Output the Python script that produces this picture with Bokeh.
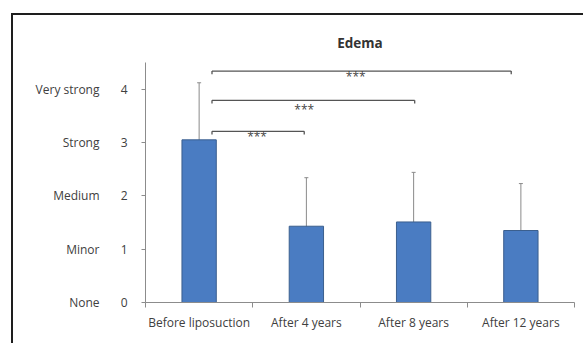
from bokeh.plotting import figure
from bokeh.layouts import column
from bokeh.models import (ColumnDataSource, FixedTicker, LinearAxis, Range1d,
                          Whisker, TeeHead)
from bokeh.core.properties import value
from bokeh.embed import file_html
from bokeh.resources import INLINE

# ---- data ----
title_text = "Edema"
categories = ["Before liposuction", "After 4 years", "After 8 years", "After 12 years"]
means = [3.05, 1.43, 1.51, 1.35]
errors = [1.07, 0.91, 0.93, 0.88]
level_values = [0, 1, 2, 3, 4]
level_names = ["None", "Minor", "Medium", "Strong", "Very strong"]
bracket_x0 = [0.62, 0.62, 0.62]
bracket_x1 = [1.48, 2.51, 3.41]
bracket_y = [3.21, 3.79, 4.34]
star_x = [1.04, 1.48, 1.96]
star_y = [3.11, 3.62, 4.24]
star_text = ["***", "***", "***"]

FONT = "Open Sans"
TXT = "#404040"
AX = "#8c8c8c"

xc = [i + 0.5 for i in range(len(categories))]
src = ColumnDataSource(dict(x=xc, top=means,
                            lo=[m - e for m, e in zip(means, errors)],
                            hi=[m + e for m, e in zip(means, errors)]))

fig = figure(width=572, height=330, output_backend="svg", toolbar_location=None,
             x_range=Range1d(0, len(categories)), y_range=Range1d(0, 4.5),
             min_border_left=132, min_border_right=11, min_border_top=47,
             min_border_bottom=43, y_axis_location=None)
fig.outline_line_color = None
fig.grid.visible = False
fig.background_fill_color = "white"

fig.title.text = title_text
fig.title.align = "center"
fig.title.text_font = FONT
fig.title.text_font_style = "bold"
fig.title.text_font_size = "13.5px"
fig.title.text_color = "#333333"
fig.title.standoff = 22

fig.vbar(x="x", top="top", bottom=0, width=0.32, source=src,
         fill_color="#4a7cc2", line_color="#3b5f8e", line_width=1)
fig.add_layout(Whisker(source=src, base="x", lower="lo", upper="hi",
                       line_color="#8a8a8a", line_width=1,
                       upper_head=TeeHead(size=4, line_color="#8a8a8a"),
                       lower_head=TeeHead(size=4, line_color="#8a8a8a")))

# significance brackets
fig.segment(x0=bracket_x0, y0=bracket_y, x1=bracket_x1, y1=bracket_y,
            line_color="#555555", line_width=1.3)
fig.segment(x0=bracket_x0, y0=bracket_y, x1=bracket_x0, y1=[b - 0.06 for b in bracket_y],
            line_color="#555555", line_width=1.3)
fig.segment(x0=bracket_x1, y0=bracket_y, x1=bracket_x1, y1=[b - 0.06 for b in bracket_y],
            line_color="#555555", line_width=1.3)
fig.text(x=star_x, y=star_y, text=star_text, text_align="center",
         text_baseline="middle", text_font=value(FONT), text_font_size="12px",
         text_color="#444444")

# x axis
xa = fig.xaxis[0]
xa.ticker = FixedTicker(ticks=xc, minor_ticks=list(range(len(categories) + 1)))
xa.major_label_overrides = {x: c for x, c in zip(xc, categories)}
xa.major_tick_out = 0
xa.major_tick_in = 0
xa.minor_tick_out = 5
xa.minor_tick_in = 0
xa.minor_tick_line_color = AX
xa.axis_line_color = AX
xa.major_label_standoff = 6
xa.major_label_text_font = FONT
xa.major_label_text_font_size = "12px"
xa.major_label_text_color = TXT

# numeric y axis
ya = LinearAxis(ticker=FixedTicker(ticks=level_values, minor_ticks=[]))
ya.axis_line_color = AX
ya.major_tick_line_color = AX
ya.major_tick_out = 4
ya.major_tick_in = 0
ya.major_label_standoff = 14
ya.major_label_text_font = FONT
ya.major_label_text_font_size = "12px"
ya.major_label_text_color = TXT
fig.add_layout(ya, "left")

# word y axis
ya2 = LinearAxis(ticker=FixedTicker(ticks=level_values, minor_ticks=[]))
ya2.major_label_overrides = {v: n for v, n in zip(level_values, level_names)}
ya2.axis_line_color = None
ya2.major_tick_line_color = None
ya2.major_tick_out = 0
ya2.major_tick_in = 0
ya2.major_label_standoff = 18
ya2.major_label_text_font = FONT
ya2.major_label_text_font_size = "12px"
ya2.major_label_text_color = TXT
fig.add_layout(ya2, "left")

p = column(fig, margin=(15, 0, 0, 13),
           styles={"box-shadow": "-2px -2px 0px 0px #1e1e1e"})

open("out.html", "w").write(file_html(p, INLINE))
